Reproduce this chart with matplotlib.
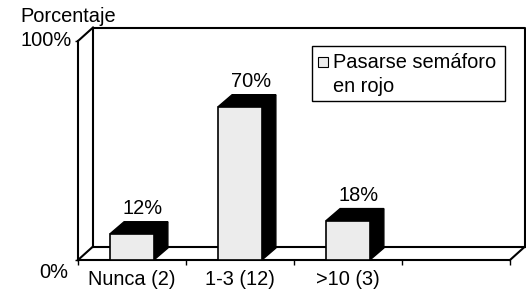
import matplotlib
matplotlib.use("Agg")
import matplotlib.pyplot as plt
from matplotlib.patches import Rectangle

# ---- data ----
categories = ["Nunca (2)", "1-3 (12)", ">10 (3)", ""]
values = [12, 70, 18, None]
value_labels = ["12%", "70%", "18%"]
series_name = ["Pasarse semáforo", "en rojo"]
y_label = "Porcentaje"
y_ticks = [0, 100]
y_tick_labels = ["0%", "100%"]

plt.rcParams['font.family'] = ['Liberation Sans', 'DejaVu Sans']
FS = 14.4
W, H, DPI = 526, 291, 100
fig = plt.figure(figsize=(W / DPI, H / DPI), dpi=DPI)
ax = fig.add_axes([78 / W, 31 / H, 432 / W, 219 / H])
n = len(categories)
ax.set_xlim(-0.5, n - 0.5)
ax.set_ylim(0, 100)

# depth of the 3-D box (data units)
DX = 15 / 108
DY = 13.5 / 2.19
BW = 0.405
BDX = 14 / 108
BDY = 12 / 2.19
LW = 1.5

for s in ["top", "right"]:
    ax.spines[s].set_visible(False)
ax.spines["left"].set_linewidth(LW)
ax.spines["bottom"].set_linewidth(LW)

x0, x1 = -0.5, n - 0.5
kw = dict(color="black", lw=LW, clip_on=False, zorder=1, solid_capstyle="projecting")
# back wall
ax.plot([x0 + DX, x0 + DX, x1 + DX, x1 + DX], [DY, 100 + DY, 100 + DY, DY], **kw)
ax.plot([x0 + DX, x1 + DX], [DY, DY], **kw)
# diagonals
ax.plot([x0, x0 + DX], [100, 100 + DY], **kw)
ax.plot([x0, x0 + DX], [0, DY], **kw)
ax.plot([x1, x1 + DX], [0, DY], **kw)

# ticks
ax.set_xticks([x0 + i for i in range(n + 1)])
ax.set_xticklabels([])
ax.tick_params(axis="x", direction="out", length=3.5, width=1)
ax.set_yticks(y_ticks)
ax.set_yticklabels([])
ax.tick_params(axis="y", direction="out", length=2, width=1)

# y tick labels
ax.annotate(y_tick_labels[1], xy=(x0, y_ticks[1]), xytext=(-6 * 0.72, 0),
            textcoords="offset points", ha="right", va="center", fontsize=FS)
ax.annotate(y_tick_labels[0], xy=(x0, y_ticks[0]), xytext=(-10 * 0.72, -12 * 0.72),
            textcoords="offset points", ha="right", va="center", fontsize=FS)

# category labels
for i, c in enumerate(categories):
    if c:
        ax.annotate(c, xy=(i, 0), xytext=(0, -25 * 0.72), textcoords="offset points",
                    ha="center", va="baseline", fontsize=FS)

# bars
FRONT = "#ececec"
xs = [i for i, v in enumerate(values) if v is not None]
vs = [v for v in values if v is not None]
ax.bar(xs, vs, width=BW, color=FRONT, edgecolor="black", linewidth=1.2, zorder=3)
for x, v, lab in zip(xs, vs, value_labels):
    l, r = x - BW / 2, x + BW / 2
    ax.fill([r, r + BDX, r + BDX, r], [0, BDY, v + BDY, v], color="black",
            zorder=2, clip_on=False)
    ax.fill([l, l + BDX, r + BDX, r], [v, v + BDY, v + BDY, v], color="black",
            zorder=2, clip_on=False)
    ax.annotate(lab, xy=(x + 0.1, v + BDY), xytext=(0, 8 * 0.72),
                textcoords="offset points", ha="center", va="baseline", fontsize=FS)

# y label
fig.text(20 / W, 1 - 22 / H, y_label, ha="left", va="baseline", fontsize=FS)

# legend
fig.patches.append(Rectangle((312 / W, 1 - 101 / H), 193 / W, 55 / H,
                             transform=fig.transFigure, fill=False,
                             edgecolor="black", lw=1))
fig.patches.append(Rectangle((318 / W, 1 - 67 / H), 10 / W, 10 / H,
                             transform=fig.transFigure, facecolor=FRONT,
                             edgecolor="black", lw=0.8))
fig.text(333 / W, 1 - 67.5 / H, series_name[0], ha="left", va="baseline", fontsize=FS)
fig.text(333 / W, 1 - 92 / H, series_name[1], ha="left", va="baseline", fontsize=FS)

fig.savefig("out.png", dpi=DPI)
